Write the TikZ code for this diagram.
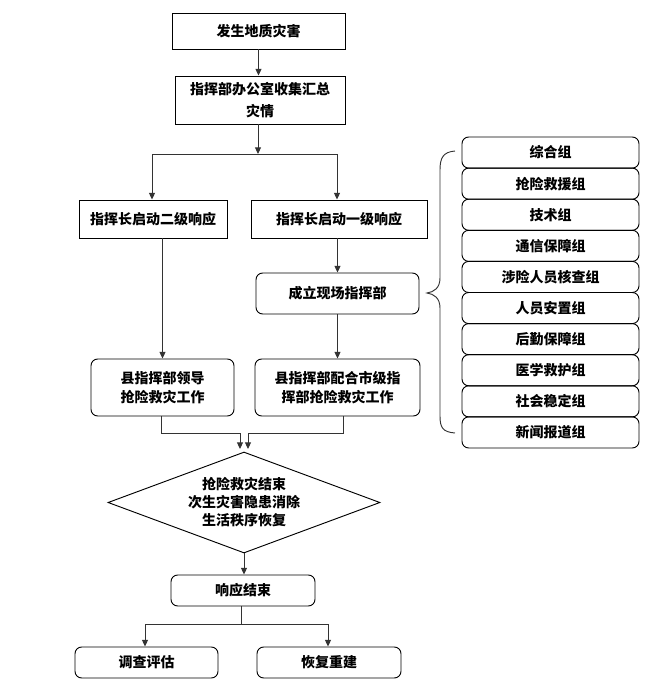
\documentclass[tikz,border=0pt]{standalone}
\usepackage{fontspec}
\setmainfont{Noto Sans CJK SC}
\usetikzlibrary{arrows.meta,shapes.geometric}
\begin{document}
\begin{tikzpicture}[x=0.75pt,y=-0.75pt,
  font=\fontsize{10.5pt}{14.25pt}\selectfont\bfseries,
  sq/.style={draw=black,line width=0.7pt,align=center,inner sep=0pt},
  rd/.style={sq,rounded corners=5pt},
  grp/.style={rd,minimum width=132.75pt,minimum height=23.3pt},
  ln/.style={draw=black!80,line width=0.7pt},
  arr/.style={ln,-{Triangle[length=5pt,width=4.5pt]}}]
\useasboundingbox (0,0) rectangle (646,682);
% main boxes
\node[sq,minimum width=129.75pt,minimum height=27pt] (b1) at (258.5,31) {发生地质灾害};
\node[sq,minimum width=127.5pt,minimum height=36pt,font=\fontsize{10.5pt}{17pt}\selectfont\bfseries] (b2) at (260,100) {指挥部办公室收集汇总\\灾情};
\node[sq,minimum width=111pt,minimum height=28.5pt] (b3) at (153,219) {指挥长启动二级响应};
\node[sq,minimum width=132pt,minimum height=28.5pt] (b4) at (339,219) {指挥长启动一级响应};
\node[rd,minimum width=122.25pt,minimum height=30.75pt] (b6) at (337.5,293.5) {成立现场指挥部};
\node[rd,minimum width=107.25pt,minimum height=42.75pt] (b5) at (162.5,387.5) {县指挥部领导\\抢险救灾工作};
\node[rd,minimum width=123.75pt,minimum height=42.75pt] (b7) at (337.5,387.5) {县指挥部配合市级指\\挥部抢险救灾工作};
\node[draw=black,line width=0.7pt,shape=diamond,aspect=2.69,inner sep=0pt,
  minimum width=204pt,minimum height=75.75pt,align=center,
  font=\fontsize{10.5pt}{13.5pt}\selectfont\bfseries] (d) at (244,502.5)
  {抢险救灾结束\\次生灾害隐患消除\\生活秩序恢复};
\node[rd,minimum width=108pt,minimum height=23.25pt] (b8) at (243,590.5) {响应结束};
\node[rd,minimum width=107.25pt,minimum height=23.25pt] (b9) at (146.5,662.5) {调查评估};
\node[rd,minimum width=108pt,minimum height=23.25pt] (b10) at (329,662.5) {恢复重建};
% groups
\foreach \t [count=\i from 0] in {综合组,抢险救援组,技术组,通信保障组,涉险人员核查组,人员安置组,后勤保障组,医学救护组,社会稳定组,新闻报道组}{
  \node[grp] (g\i) at (550.5,{152.55+31.1*\i}) {\t};
}
% coordinates
\coordinate (j1) at (258,154);
\coordinate (j1l) at (152,154);
\coordinate (j1r) at (337,154);
\coordinate (j2a) at (161,433);
\coordinate (j2b) at (240,433);
\coordinate (j2c) at (343,433);
\coordinate (j2d) at (248,433);
\coordinate (j3) at (241,624);
\coordinate (j3l) at (145,624);
\coordinate (j3r) at (328,624);
% connectors
\draw[arr] (b1.south) -- (b1.south |- b2.north);
\draw[arr] (j1 |- b2.south) -- (j1);
\draw[ln] (j1l) -- (j1r);
\draw[arr] (j1l) -- (j1l |- b3.north);
\draw[arr] (j1r) -- (j1r |- b4.north);
\draw[arr] (b5.north |- b3.south) -- (b5.north);
\draw[arr] (b6.north |- b4.south) -- (b6.north);
\draw[arr] (b6.south) -- (b7.north);
\draw[ln] (j2a |- b5.south) -- (j2a) -- (j2b);
\draw[arr] (j2b) -- ++(0,16);
\draw[ln] (j2c |- b7.south) -- (j2c) -- (j2d);
\draw[arr] (j2d) -- ++(0,16);
\draw[arr] (d.south) -- (d.south |- b8.north);
\draw[ln] (j3 |- b8.south) -- (j3);
\draw[ln] (j3l) -- (j3r);
\draw[arr] (j3l) -- (j3l |- b9.north);
\draw[arr] (j3r) -- (j3r |- b10.north);
% brace
\draw[ln] (455,151) .. controls (443,152) and (440,158) .. (440,170) -- (440,278)
  .. controls (440,288) and (434,292) .. (427,293)
  .. controls (434,294) and (440,298) .. (440,308) -- (440,416)
  .. controls (440,428) and (443,432) .. (455,433);
\end{tikzpicture}
\end{document}
